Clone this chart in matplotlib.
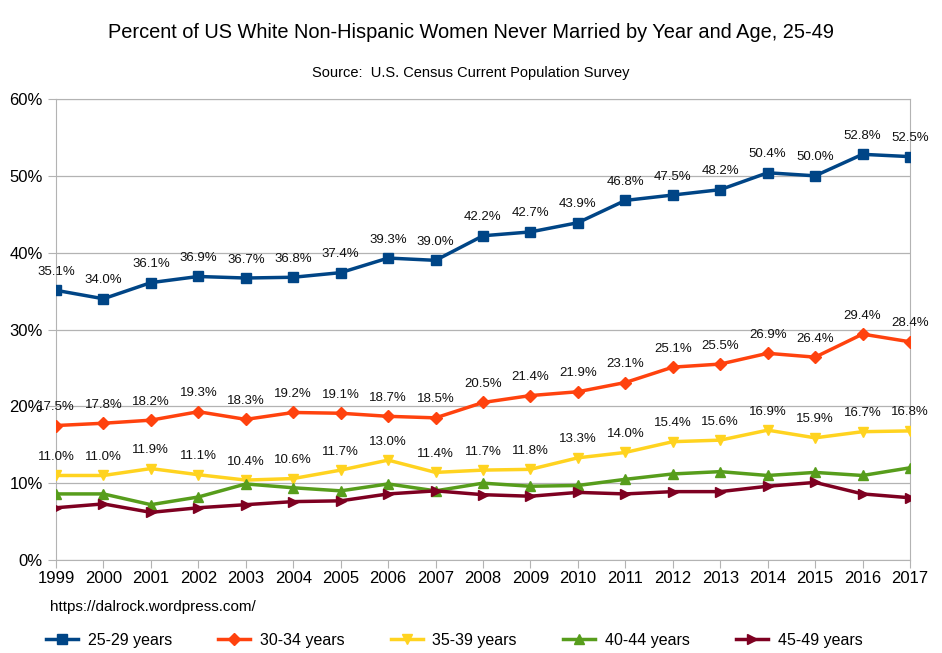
import matplotlib
matplotlib.use("Agg")
import matplotlib.pyplot as plt
from matplotlib.ticker import PercentFormatter

plt.rcParams['font.family'] = ['Liberation Sans', 'DejaVu Sans']

# data
years = list(range(1999, 2018))
age_25_29 = [35.1, 34.0, 36.1, 36.9, 36.7, 36.8, 37.4, 39.3, 39.0, 42.2,
             42.7, 43.9, 46.8, 47.5, 48.2, 50.4, 50.0, 52.8, 52.5]
age_30_34 = [17.5, 17.8, 18.2, 19.3, 18.3, 19.2, 19.1, 18.7, 18.5, 20.5,
             21.4, 21.9, 23.1, 25.1, 25.5, 26.9, 26.4, 29.4, 28.4]
age_35_39 = [11.0, 11.0, 11.9, 11.1, 10.4, 10.6, 11.7, 13.0, 11.4, 11.7,
             11.8, 13.3, 14.0, 15.4, 15.6, 16.9, 15.9, 16.7, 16.8]
age_40_44 = [8.6, 8.6, 7.2, 8.2, 9.9, 9.4, 9.0, 9.9, 9.0, 10.0,
             9.6, 9.7, 10.5, 11.2, 11.5, 11.0, 11.4, 11.0, 12.0]
age_45_49 = [6.8, 7.3, 6.2, 6.8, 7.2, 7.6, 7.7, 8.6, 9.0, 8.5,
             8.3, 8.8, 8.6, 8.9, 8.9, 9.6, 10.1, 8.6, 8.1]

series = [
    ("25-29 years", age_25_29, "#004586", "s", True),
    ("30-34 years", age_30_34, "#ff420e", "D", True),
    ("35-39 years", age_35_39, "#ffd320", "v", True),
    ("40-44 years", age_40_44, "#579d1c", "^", False),
    ("45-49 years", age_45_49, "#7e0021", ">", False),
]

fig = plt.figure(figsize=(9.42, 6.53), dpi=100)
ax = fig.add_axes([56/942, 1 - 560/653, (910-56)/942, (560-99)/653])

for name, vals, color, mk, labels in series:
    ms = 7 if mk != "D" else 6
    ax.plot(years, vals, color=color, lw=2.5, marker=mk, ms=ms, label=name, zorder=3)
    if labels:
        for x, v in zip(years, vals):
            ax.annotate(f"{v:.1f}%", (x, v), xytext=(0, 9), textcoords="offset points",
                        ha="center", va="bottom", fontsize=9.5, color="#111111", zorder=4)

ax.set_xlim(1999, 2017)
ax.set_ylim(0, 60)
ax.set_xticks(years)
ax.set_yticks(range(0, 61, 10))
ax.yaxis.set_major_formatter(PercentFormatter(decimals=0))
ax.grid(axis="y", color="#b3b3b3", lw=0.9)
ax.set_axisbelow(True)
for s in ax.spines.values():
    s.set_color("#b3b3b3")
ax.tick_params(axis="both", colors="#b3b3b3", labelcolor="black", labelsize=12, length=6)
ax.tick_params(axis="x", pad=2)

fig.text(0.5, 1 - 33/653, "Percent of US White Non-Hispanic Women Never Married by Year and Age, 25-49",
         ha="center", va="center", fontsize=14.4)
fig.text(0.5, 1 - 73/653, "Source:  U.S. Census Current Population Survey",
         ha="center", va="center", fontsize=10.5)
fig.text(50/942, 1 - 607/653, "https://dalrock.wordpress.com/",
         ha="left", va="center", fontsize=11)

fig.legend(loc="center left", bbox_to_anchor=(40/942, 1 - 640/653), ncol=5, frameon=False,
           fontsize=11.5, handlelength=2.0, columnspacing=2.9, handletextpad=0.6,
           borderaxespad=0)

fig.savefig("out.png", dpi=100)
